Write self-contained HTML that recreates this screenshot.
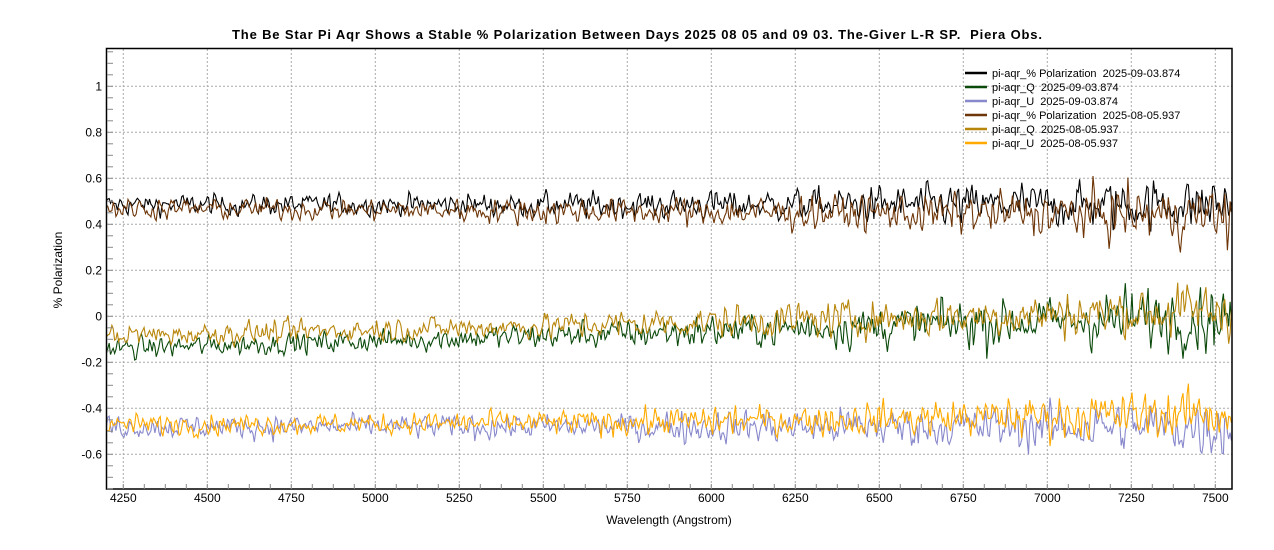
<!DOCTYPE html>
<html><head><meta charset="utf-8"><style>
html,body{margin:0;padding:0;background:#fff;}
svg{display:block;font-family:"Liberation Sans",sans-serif;}
text{white-space:pre;}
</style></head><body>
<svg id="s" width="1274" height="550" xmlns="http://www.w3.org/2000/svg">
<rect width="1274" height="550" fill="#fff"/>
<text x="232" y="39" textLength="810" lengthAdjust="spacing" font-size="13" font-weight="bold" fill="#000">The Be Star Pi Aqr Shows a Stable % Polarization Between Days 2025 08 05 and 09 03. The-Giver L-R SP.  Piera Obs.</text>
<g id="grid"></g>
<g id="series"></g>
<rect x="106.5" y="48.5" width="1125.5" height="440.5" fill="none" stroke="#000" stroke-width="1.5"/>
<g id="ticks"></g>
<text x="669" y="524" text-anchor="middle" font-size="12">Wavelength (Angstrom)</text>
<text transform="translate(62,270) rotate(-90)" text-anchor="middle" font-size="12">% Polarization</text>
<g font-size="11" fill="#000">
<line x1="965" x2="987" y1="73" y2="73" stroke="#000" stroke-width="2.5"/><text x="992" y="77">pi-aqr_% Polarization  2025-09-03.874</text>
<line x1="965" x2="987" y1="87" y2="87" stroke="#0b4a0b" stroke-width="2.5"/><text x="992" y="91">pi-aqr_Q  2025-09-03.874</text>
<line x1="965" x2="987" y1="101" y2="101" stroke="#8888cc" stroke-width="2.5"/><text x="992" y="105">pi-aqr_U  2025-09-03.874</text>
<line x1="965" x2="987" y1="115" y2="115" stroke="#6e3608" stroke-width="2.5"/><text x="992" y="119">pi-aqr_% Polarization  2025-08-05.937</text>
<line x1="965" x2="987" y1="129" y2="129" stroke="#b8860b" stroke-width="2.5"/><text x="992" y="133">pi-aqr_Q  2025-08-05.937</text>
<line x1="965" x2="987" y1="143" y2="143" stroke="#ffaa00" stroke-width="2.5"/><text x="992" y="147">pi-aqr_U  2025-08-05.937</text>
</g>
</svg>
<script>
var NS="http://www.w3.org/2000/svg";
function X(w){return 106.5+(w-4200)*0.336;}
function Y(v){return 316.3-v*230;}
function el(p,t,a){var e=document.createElementNS(NS,t);for(var k in a)e.setAttribute(k,a[k]);p.appendChild(e);return e;}
var g=document.getElementById('grid'),tk=document.getElementById('ticks');
for(var w=4250;w<=7500;w+=250){el(g,'line',{x1:X(w),x2:X(w),y1:49,y2:489,stroke:'#aaa','stroke-dasharray':'2,2'});
 var t=el(tk,'text',{x:X(w),y:502,'text-anchor':'middle','font-size':12});t.textContent=w;}
for(var w=4250;w<=7550;w+=62.5){el(tk,'line',{x1:X(w),x2:X(w),y1:489,y2:484,stroke:'#888'});}
for(var v=-0.6;v<=1.01;v+=0.2){var vv=Math.round(v*10)/10;el(g,'line',{x1:107,x2:1232,y1:Y(vv),y2:Y(vv),stroke:'#aaa','stroke-dasharray':'2,2'});
 var t=el(tk,'text',{x:102,y:Y(vv)+4,'text-anchor':'end','font-size':12});t.textContent=(vv==0?'0':vv);}
for(var v=-0.75;v<=1.16;v+=0.05){el(tk,'line',{x1:107,x2:113,y1:Y(v),y2:Y(v),stroke:'#888'});}
var seed=12345;function rnd(){seed=(seed*1103515245+12345)%2147483648;return seed/2147483648;}
function gauss(){return (rnd()+rnd()+rnd()+rnd()-2)*1.7;}
var sg=document.getElementById('series');
function series(col,f,sd0,sd1,sw){var d='',prev=0;
 for(var w=4200;w<=7550;w+=4){var fr=(w-4200)/3350;var sd=sd0+(sd1-sd0)*Math.pow(fr,2.2);
  var n=gauss()*sd;var v=f(w)+0.6*n+0.4*prev;prev=n;
  d+=(d?'L':'M')+X(w).toFixed(1)+','+Y(v).toFixed(1);}
 el(sg,'path',{d:d,fill:'none',stroke:col,'stroke-width':sw||1.1});}
series('#000',function(w){return 0.485;},0.03,0.08);
series('#0b4a0b',function(w){return -0.14+0.14*(w-4200)/3300;},0.03,0.1);
series('#8888cc',function(w){return -0.48;},0.032,0.085);
series('#6e3608',function(w){return 0.47-0.03*(w-4200)/3350;},0.03,0.085);
series('#b8860b',function(w){return -0.085+0.11*(w-4200)/3300;},0.032,0.085);
series('#ffaa00',function(w){return -0.47+0.05*Math.pow((w-4200)/3350,2);},0.03,0.075);
</script>
</body></html>
